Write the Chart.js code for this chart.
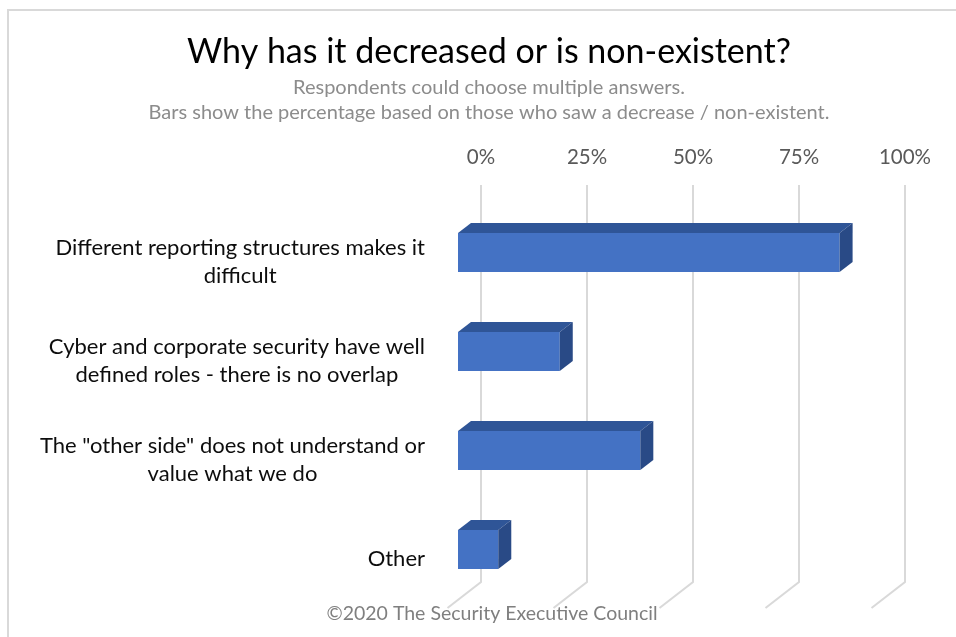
<!DOCTYPE html>
<html>
<head>
<meta charset="utf-8">
<script src="https://cdn.jsdelivr.net/npm/chart.js@4/dist/chart.umd.min.js"></script>
<style>
  html, body { margin: 0; padding: 0; background: #fff; }
  #wrap { width: 956px; height: 637px; position: relative; }
</style>
</head>
<body>
<div id="wrap"><canvas id="c" width="956" height="637"></canvas></div>
<script>
// ---- data ----
const categories = [
  ['Different reporting structures makes it', 'difficult'],
  ['Cyber and corporate security have well', 'defined roles - there is no overlap'],
  ['The "other side" does not understand or', 'value what we do'],
  ['Other']
];
const percentValues = [90, 24, 43, 9.5];
const tickValues = [0, 25, 50, 75, 100];
const titleText = 'Why has it decreased or is non-existent?';
const subtitleLines = ['Respondents could choose multiple answers.',
  'Bars show the percentage based on those who saw a decrease / non-existent.'];
const footerText = '\u00A92020 The Security Executive Council';

// ---- styling constants ----
const FONT = 'Lato, "Open Sans", sans-serif';
const DEPTH_X = 13, DEPTH_Y = 10;       // bar 3D depth
const WALL_X = 23;                       // back wall offset
const FLOOR_DX = -33.5, FLOOR_DY = 26;   // floor gridline slant

const framePlugin = {
  id: 'frame',
  beforeDraw(chart) {
    const ctx = chart.ctx;
    ctx.save();
    ctx.fillStyle = '#fff';
    ctx.fillRect(0, 0, chart.width, chart.height);
    ctx.strokeStyle = '#d9d9d9';
    ctx.lineWidth = 2;
    ctx.strokeRect(8, 10, chart.width + 20, chart.height + 20);
    ctx.restore();
  }
};

const gridPlugin = {
  id: 'grid3d',
  beforeDatasetsDraw(chart) {
    const ctx = chart.ctx;
    const xs = chart.scales.x;
    const top = 185, bottom = chart.chartArea.bottom - 17;
    ctx.save();
    ctx.strokeStyle = '#d9d9d9';
    ctx.lineWidth = 2;
    tickValues.forEach(v => {
      const px = xs.getPixelForValue(v) + WALL_X;
      ctx.beginPath();
      ctx.moveTo(px, top);
      ctx.lineTo(px, bottom);
      ctx.lineTo(px + FLOOR_DX, bottom + FLOOR_DY);
      ctx.stroke();
    });
    ctx.restore();
  }
};

const bar3dPlugin = {
  id: 'bar3d',
  afterDatasetsDraw(chart) {
    const ctx = chart.ctx;
    const meta = chart.getDatasetMeta(0);
    ctx.save();
    meta.data.forEach(bar => {
      const p = bar.getProps(['x', 'y', 'base', 'height'], true);
      const t = p.y - p.height / 2, b = p.y + p.height / 2;
      // top face
      ctx.fillStyle = '#2f5597';
      ctx.beginPath();
      ctx.moveTo(p.base, t);
      ctx.lineTo(p.x, t);
      ctx.lineTo(p.x + DEPTH_X, t - DEPTH_Y);
      ctx.lineTo(p.base + DEPTH_X, t - DEPTH_Y);
      ctx.closePath();
      ctx.fill();
      // side face
      ctx.fillStyle = '#294a86';
      ctx.beginPath();
      ctx.moveTo(p.x, t);
      ctx.lineTo(p.x + DEPTH_X, t - DEPTH_Y);
      ctx.lineTo(p.x + DEPTH_X, b - DEPTH_Y);
      ctx.lineTo(p.x, b);
      ctx.closePath();
      ctx.fill();
    });
    ctx.restore();
  }
};

const labelPlugin = {
  id: 'catLabels',
  afterDraw(chart) {
    const ctx = chart.ctx;
    const ys = chart.scales.y;
    const right = chart.chartArea.left - 33;
    ctx.save();
    ctx.font = '22px ' + FONT;
    ctx.fillStyle = '#0d0d0d';
    ctx.textAlign = 'center';
    ctx.textBaseline = 'middle';
    const lh = 28.5;
    categories.forEach((lines, i) => {
      const cy = ys.getPixelForValue(i) + 9.5;
      const w = Math.max(...lines.map(l => ctx.measureText(l).width));
      const cx = right - w / 2;
      const y0 = cy - (lines.length - 1) * lh / 2;
      lines.forEach((l, j) => ctx.fillText(l, cx, y0 + j * lh));
    });
    // footer
    ctx.font = '19.5px ' + FONT;
    ctx.fillStyle = '#7f7f7f';
    ctx.fillText(footerText, 492, 614);
    ctx.restore();
  }
};

new Chart(document.getElementById('c'), {
  type: 'bar',
  data: {
    labels: categories,
    datasets: [{
      data: percentValues,
      backgroundColor: '#4472c4',
      borderWidth: 0,
      categoryPercentage: 1,
      barPercentage: 0.395
    }]
  },
  plugins: [framePlugin, gridPlugin, bar3dPlugin, labelPlugin],
  options: {
    indexAxis: 'y',
    responsive: false,
    animation: false,
    layout: { padding: { left: 96, right: 74, top: 0, bottom: 38 } },
    plugins: {
      legend: { display: false },
      tooltip: { enabled: false },
      title: {
        display: true,
        text: titleText,
        color: '#000',
        font: { family: FONT, size: 34, weight: 'normal', lineHeight: 1.2 },
        padding: { top: 31.6, bottom: 0 }
      },
      subtitle: {
        display: true,
        text: subtitleLines,
        color: '#8c8c8c',
        font: { family: FONT, size: 20, weight: 'normal', lineHeight: 1.25 },
        padding: { top: 3.1, bottom: 0 }
      }
    },
    scales: {
      x: {
        position: 'top',
        min: 0,
        max: 100,
        afterBuildTicks(scale) { scale.ticks = tickValues.map(v => ({ value: v })); },
        afterFit(scale) { scale.height = 77.5; },
        grid: { display: false, drawTicks: false },
        border: { display: false },
        ticks: {
          padding: 33.7,
          labelOffset: WALL_X,
          color: '#595959',
          font: { family: FONT, size: 20.5 },
          callback: v => v + '%'
        }
      },
      y: {
        afterFit(scale) { scale.width = 362; },
        grid: { display: false, drawTicks: false },
        border: { display: false },
        ticks: { display: false }
      }
    }
  }
});
</script>
</body>
</html>
